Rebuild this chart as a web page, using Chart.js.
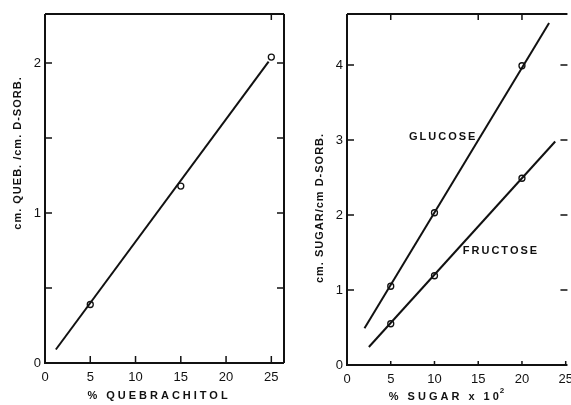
<!DOCTYPE html>
<html>
<head>
<meta charset="utf-8">
<script src="https://cdn.jsdelivr.net/npm/chart.js@4.4.0/dist/chart.umd.min.js"></script>
<style>
  html, body { margin: 0; padding: 0; background: #fff; overflow: hidden; width: 571px; height: 405px; }
  canvas { position: absolute; top: 0; }
  #quebChart { left: 0; }
  #sugarChart { left: 290px; }
</style>
</head>
<body>
<canvas id="quebChart" width="290" height="405"></canvas>
<canvas id="sugarChart" width="290" height="405"></canvas>
<script>
// tick labels
const xTicks = [0, 5, 10, 15, 20, 25];
const quebYTicks = [0, 1, 2];
const sugarYTicks = [0, 1, 2, 3, 4];
const quebMinorY = [0.5, 1, 1.5, 2];
const sugarMinorY = [1, 2, 3, 4];
const xMinor = [5, 10, 15, 20, 25];

// left panel: quebrachitol
const quebPct = [5, 15, 25];
const quebRatio = [0.39, 1.18, 2.04];
const quebFitX = [1.2, 24.7];
const quebFitY = [0.09, 2.01];

// right panel: sugars
const sugarPct = [5, 10, 20];
const glucose = [1.05, 2.03, 3.99];
const fructose = [0.55, 1.19, 2.49];
const glucoseFitX = [2.0, 23.1];
const glucoseFitY = [0.49, 4.56];
const fructoseFitX = [2.5, 23.8];
const fructoseFitY = [0.24, 2.98];

const INK = '#111';
const FONT = '"Liberation Sans", Arial, sans-serif';
Chart.defaults.font.family = FONT;
Chart.defaults.font.size = 13;
Chart.defaults.color = INK;

const pts = (xs, ys) => xs.map((x, i) => ({ x, y: ys[i] }));

// frame, inward tick marks, axis titles and curve labels
const frame = {
  id: 'frame',
  afterDraw(chart, args, o) {
    const { ctx, chartArea: a, scales: { x, y } } = chart;
    ctx.save();
    ctx.strokeStyle = INK;
    ctx.lineWidth = 2;
    ctx.beginPath();
    ctx.moveTo(a.left, a.top);
    ctx.lineTo(a.right, a.top);
    ctx.moveTo(a.left, a.top);
    ctx.lineTo(a.left, a.bottom);
    ctx.lineTo(a.right, a.bottom);
    if (o.rightLine) {
      ctx.moveTo(a.right, a.top);
      ctx.lineTo(a.right, a.bottom);
    }
    ctx.stroke();

    ctx.lineWidth = 1.5;
    ctx.beginPath();
    o.bottom.forEach(v => {
      const px = x.getPixelForValue(v);
      ctx.moveTo(px, a.bottom);
      ctx.lineTo(px, a.bottom - o.bottomLen);
    });
    o.top.forEach(v => {
      const px = x.getPixelForValue(v);
      ctx.moveTo(px, a.top);
      ctx.lineTo(px, a.top + 6);
    });
    o.left.forEach(v => {
      const py = y.getPixelForValue(v);
      ctx.moveTo(a.left, py);
      ctx.lineTo(a.left + 7, py);
    });
    o.right.forEach(v => {
      const py = y.getPixelForValue(v);
      ctx.moveTo(a.right, py);
      ctx.lineTo(a.right - 7, py);
    });
    ctx.stroke();

    ctx.fillStyle = INK;
    ctx.textBaseline = 'middle';
    ctx.font = 'bold 11px ' + FONT;
    ctx.letterSpacing = o.xSpacing;
    // x title, with optional superscript after it
    const w = ctx.measureText(o.xTitle).width;
    let supW = 0;
    if (o.xSup) {
      ctx.font = 'bold 8px ' + FONT;
      supW = ctx.measureText(o.xSup).width;
    }
    const x0 = o.xTitlePos[0] - (w + supW) / 2;
    ctx.textAlign = 'left';
    ctx.font = 'bold 11px ' + FONT;
    ctx.fillText(o.xTitle, x0, o.xTitlePos[1]);
    if (o.xSup) {
      ctx.font = 'bold 8px ' + FONT;
      ctx.fillText(o.xSup, x0 + w - 2, o.xTitlePos[1] - 6);
    }

    ctx.textAlign = 'center';
    ctx.font = 'bold 11px ' + FONT;
    ctx.letterSpacing = '1px';
    ctx.save();
    ctx.translate(o.yTitlePos[0], o.yTitlePos[1]);
    ctx.rotate(-Math.PI / 2);
    ctx.fillText(o.yTitle, 0, 0);
    ctx.restore();

    ctx.letterSpacing = '2px';
    o.notes.forEach(n => {
      ctx.fillText(n.text, x.getPixelForValue(n.x), y.getPixelForValue(n.y));
    });
    ctx.restore();
  }
};

function lineSet(data) {
  return {
    data, showLine: true, pointRadius: 0, borderColor: INK, borderWidth: 2,
  };
}
function markSet(data) {
  return {
    data, showLine: false, pointRadius: 3, pointBorderWidth: 1.3,
    pointBackgroundColor: '#fff', pointBorderColor: INK,
  };
}

function makeScales(xMax, yMax, yTicks, xHeight, yWidth) {
  return {
    x: {
      type: 'linear', min: 0, max: xMax,
      grid: { display: false, drawTicks: false }, border: { display: false },
      ticks: { padding: 7 },
      afterBuildTicks: s => { s.ticks = xTicks.map(v => ({ value: v })); },
      afterFit: s => { s.height = xHeight; },
    },
    y: {
      type: 'linear', min: 0, max: yMax,
      grid: { display: false, drawTicks: false }, border: { display: false },
      ticks: { padding: 4 },
      afterBuildTicks: s => { s.ticks = yTicks.map(v => ({ value: v })); },
      afterFit: s => { s.width = yWidth; },
    },
  };
}

new Chart(document.getElementById('quebChart'), {
  type: 'scatter',
  data: {
    datasets: [
      lineSet(pts(quebFitX, quebFitY)),
      markSet(pts(quebPct, quebRatio)),
    ],
  },
  options: {
    responsive: false,
    animation: false,
    layout: { padding: { left: 0, right: 6, top: 14, bottom: 0 } },
    scales: makeScales(26.4, 2.327, quebYTicks, 42, 45),
    plugins: {
      legend: { display: false },
      tooltip: { enabled: false },
      frame: {
        rightLine: true,
        bottom: xMinor, bottomLen: 7, top: [25],
        left: quebMinorY, right: quebMinorY,
        xTitle: '% QUEBRACHITOL', xTitlePos: [159, 396], xSpacing: '3px',
        yTitle: 'cm. QUEB. /cm. D-SORB.', yTitlePos: [18, 153],
        notes: [],
      },
    },
  },
  plugins: [frame],
});

new Chart(document.getElementById('sugarChart'), {
  type: 'scatter',
  data: {
    datasets: [
      lineSet(pts(glucoseFitX, glucoseFitY)),
      lineSet(pts(fructoseFitX, fructoseFitY)),
      markSet(pts(sugarPct, glucose)),
      markSet(pts(sugarPct, fructose)),
    ],
  },
  options: {
    responsive: false,
    animation: false,
    layout: { padding: { left: 0, right: 8, top: 14, bottom: 0 } },
    scales: makeScales(25.2, 4.68, sugarYTicks, 40, 57),
    plugins: {
      legend: { display: false },
      tooltip: { enabled: false },
      frame: {
        rightLine: false,
        bottom: xMinor, bottomLen: 4, top: [5, 15, 20],
        left: sugarMinorY, right: sugarMinorY,
        xTitle: '% SUGAR x 10', xSup: '2', xTitlePos: [159, 397], xSpacing: '3px',
        yTitle: 'cm. SUGAR/cm D-SORB.', yTitlePos: [30, 208],
        notes: [
          { text: 'GLUCOSE', x: 11.0, y: 3.04 },
          { text: 'FRUCTOSE', x: 17.6, y: 1.52 },
        ],
      },
    },
  },
  plugins: [frame],
});
</script>
</body>
</html>
